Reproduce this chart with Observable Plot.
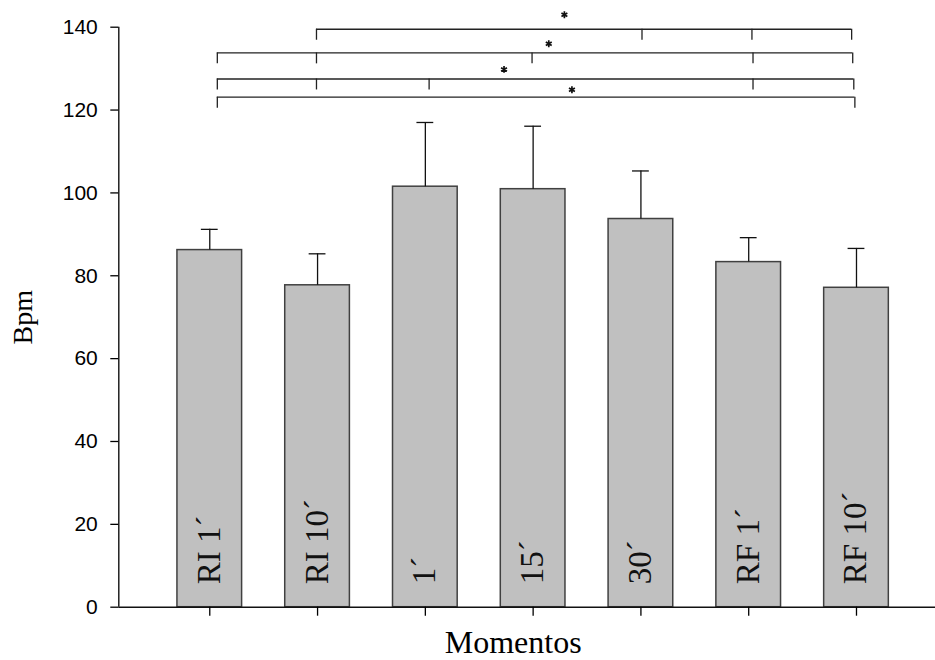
<!DOCTYPE html>
<html>
<head>
<meta charset="utf-8">
<script src="https://cdn.jsdelivr.net/npm/d3@7"></script>
<script src="https://cdn.jsdelivr.net/npm/@observablehq/plot@0.6"></script>
<style>
  body { margin: 0; background: #fff; }
</style>
</head>
<body>
<div id="chart"></div>
<script>
// Frequência cardíaca (Bpm) por momento: média + desvio padrão
const momentos = ["RI 1´", "RI 10´", "1´", "15´", "30´", "RF 1´", "RF 10´"];
const bpmMedia = [86.2, 77.7, 101.5, 100.9, 93.7, 83.3, 77.1];
const bpmDP = [5.0, 7.6, 15.5, 15.2, 11.6, 5.9, 9.5];
const yTicks = [0, 20, 40, 60, 80, 100, 120, 140];

// Chaves de significância: altura (Bpm) e posições das hastes (índice do momento)
const chaveY = [139.5, 133.8, 127.5, 123.1];
const chaveHastes = [
  [0.99, 4.01, 5.03, 5.955],
  [0.07, 0.99, 2.99, 5.04, 5.965],
  [0.07, 0.99, 2.035, 5.04, 5.975],
  [0.07, 5.985]
];
const asteriscoX = [3.29, 3.145, 2.73, 3.36];
const asteriscoY = [143.0, 136.0, 129.8, 124.9];

const barras = momentos.map((m, i) => ({m, i, media: bpmMedia[i], dp: bpmDP[i]}));
const chaves = chaveY.map((y, k) => ({y, x1: d3.min(chaveHastes[k]), x2: d3.max(chaveHastes[k])}));
const hastes = chaveY.flatMap((y, k) => chaveHastes[k].map(x => ({x, y})));
const asteriscos = asteriscoX.map((x, k) => ({x, y: asteriscoY[k]}));

const meiaLargura = 0.3;   // metade da largura da barra (em passos de categoria)
const meiaTampa = 0.078;   // metade da largura da tampa do erro
const queda = 2.65;        // comprimento das hastes das chaves (Bpm)
const xDomain = [-0.844, 6.733];
const serif = "'Liberation Serif', 'Times New Roman', serif";

const chart = Plot.plot({
  width: 935,
  height: 660,
  marginLeft: 118.3,
  marginRight: 0,
  marginTop: 26.7,
  marginBottom: 53.3,
  style: {fontFamily: "'Liberation Sans', Arial, sans-serif", fontSize: "21px", background: "#fff", color: "#000"},
  x: {type: "linear", domain: xDomain, axis: null},
  y: {domain: [0, 140], axis: null},
  marks: [
    Plot.rect(barras, {
      x1: d => d.i - meiaLargura, x2: d => d.i + meiaLargura, y1: 0, y2: "media",
      fill: "#c0c0c0", stroke: "#404040", strokeWidth: 1.5
    }),
    Plot.ruleX(barras, {x: "i", y1: "media", y2: d => d.media + d.dp, stroke: "#111", strokeWidth: 1.3}),
    Plot.ruleY(barras, {y: d => d.media + d.dp, x1: d => d.i - meiaTampa, x2: d => d.i + meiaTampa, stroke: "#111", strokeWidth: 1.3}),
    Plot.text(barras, {
      x: "i", y: 0, text: "m", rotate: -90, textAnchor: "start", lineAnchor: "bottom",
      dx: 10, dy: -23, fontFamily: serif, fontSize: 33, fill: "#111"
    }),
    // eixos
    Plot.ruleY([0], {stroke: "#111", strokeWidth: 1.4}),
    Plot.ruleX([xDomain[0]], {stroke: "#111", strokeWidth: 1.4}),
    Plot.axisY({ticks: yTicks, tickSize: 8, tickPadding: 13, label: null, strokeWidth: 1.3}),
    Plot.axisX(d3.range(momentos.length), {tickSize: 9, tickFormat: () => "", label: null, strokeWidth: 1.3}),
    // chaves de comparação
    Plot.ruleY(chaves, {y: "y", x1: "x1", x2: "x2", stroke: "#222", strokeWidth: 1.3}),
    Plot.ruleX(hastes, {x: "x", y1: "y", y2: d => d.y - queda, stroke: "#222", strokeWidth: 1.3}),
    Plot.dot(asteriscos, {x: "x", y: "y", symbol: "asterisk", r: 3.2, stroke: "#111", strokeWidth: 1.7}),
    // títulos dos eixos
    Plot.text(["Bpm"], {
      frameAnchor: "left", dx: -86.6, rotate: -90, textAnchor: "middle", lineAnchor: "bottom",
      fontFamily: serif, fontSize: 28, fill: "#000"
    }),
    Plot.text(["Momentos"], {
      frameAnchor: "bottom", dx: -14, dy: 46, textAnchor: "middle", lineAnchor: "bottom",
      fontFamily: serif, fontSize: 32, fill: "#000"
    })
  ]
});

document.getElementById("chart").appendChild(chart);
</script>
</body>
</html>
